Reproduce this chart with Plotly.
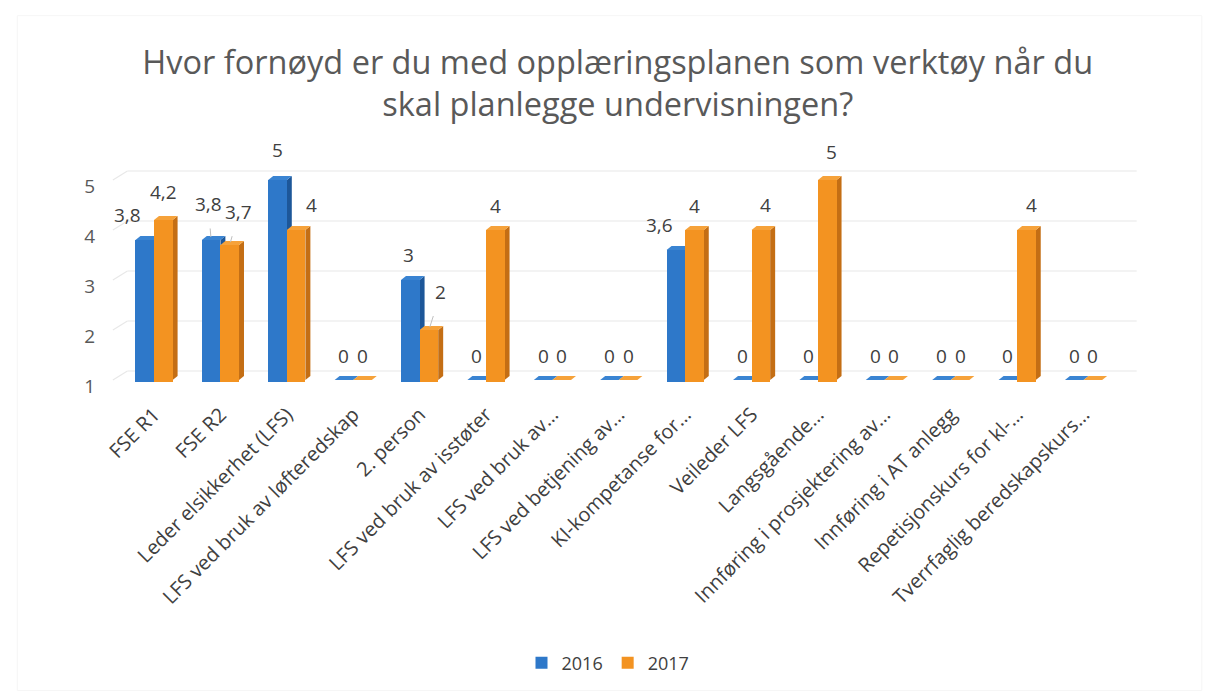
import plotly.graph_objects as go
import numpy as np

# Survey data: satisfaction with the training plan (scale 1-5), 0 = no answers
categories = [
    "FSE R1", "FSE R2", "Leder elsikkerhet (LFS)", "LFS ved bruk av løfteredskap",
    "2. person", "LFS ved bruk av isstøter", "LFS ved bruk av…", "LFS ved betjening av…",
    "KI-kompetanse for…", "Veileder LFS", "Langsgående…", "Innføring i prosjektering av…",
    "Innføring i AT anlegg", "Repetisjonskurs for kl-…", "Tverrfaglig beredskapskurs…",
]
values_2016 = [3.8, 3.8, 5, 0, 3, 0, 0, 0, 3.6, 0, 0, 0, 0, 0, 0]
values_2017 = [4.2, 3.7, 4, 0, 2, 4, 0, 0, 4, 4, 5, 0, 0, 4, 0]
y_ticks = [1, 2, 3, 4, 5]

BLUE, BLUE_SIDE, BLUE_TOP = "#2E78C9", "#1D5799", "#3A84D2"
ORANGE, ORANGE_SIDE, ORANGE_TOP = "#F39321", "#C46E14", "#F6A23A"
TEXT = "#404040"
FONT = "Open Sans"

x = np.arange(len(categories), dtype=float)
W = 0.28          # front face width of one bar
DX, DY = 0.075, 0.08   # depth offset for the pseudo-3D faces
FLOOR = 1.0

fig = go.Figure()

# front faces
for vals, off, col, name in [(values_2016, -W / 2, BLUE, "2016"),
                             (values_2017, W / 2, ORANGE, "2017")]:
    fig.add_trace(go.Bar(
        x=x + off, y=vals, width=W, name=name, marker=dict(color=col, line=dict(width=0)),
        hoverinfo="name+y",
    ))

shapes = []
# back-wall gridlines
for t in y_ticks:
    shapes.append(dict(type="line", xref="x", yref="y", ysizemode="pixel", yanchor=t,
                       x0=-0.62, x1=-0.4, y0=0, y1=9, line=dict(color="#E8E8E8", width=1.2),
                       layer="below"))
    shapes.append(dict(type="line", xref="x", yref="y", ysizemode="pixel", yanchor=t,
                       x0=-0.4, x1=14.8, y0=9, y1=9, line=dict(color="#E8E8E8", width=1.2),
                       layer="below"))


def faces(xl, v, side_col, top_col):
    xr = xl + W
    top = max(v, FLOOR)
    out = []
    if v > FLOOR:
        out.append(dict(type="path", xref="x", yref="y", layer="below",
                        path=f"M{xr},{FLOOR} L{xr + DX},{FLOOR + DY} L{xr + DX},{top + DY} L{xr},{top} Z",
                        fillcolor=side_col, line=dict(width=0)))
    out.append(dict(type="path", xref="x", yref="y", layer="below",
                    path=f"M{xl},{top} L{xr},{top} L{xr + DX},{top + DY} L{xl + DX},{top + DY} Z",
                    fillcolor=top_col, line=dict(width=0)))
    return out


for i in range(len(categories)):
    shapes += faces(x[i] - W, values_2016[i], BLUE_SIDE, BLUE_TOP)
for i in range(len(categories)):
    shapes += faces(x[i], values_2017[i], ORANGE_SIDE, ORANGE_TOP)

# faint chart border
shapes.append(dict(type="rect", xref="paper", yref="paper", x0=-0.09, x1=1.06, y0=-1.39, y1=1.65,
                   line=dict(color="#F6F6F6", width=1), layer="below"))

# data labels: pixel offsets of the label from the bar top (some with leader lines)
offsets_2016 = {0: (-17, -25, False), 1: (-3, -36, True), 2: (0, -30, False),
                4: (-2, -25, False), 8: (-16, -25, False)}
offsets_2017 = {0: (0, -28, False), 1: (9, -33, True), 2: (15, -25, False),
                4: (12, -38, True), 9: (5, -25, False), 10: (4, -28, False),
                13: (5, -25, False)}

annotations = []
for vals, off, table in [(values_2016, -W / 2, offsets_2016), (values_2017, W / 2, offsets_2017)]:
    for i, v in enumerate(vals):
        ax, ay, leader = table.get(i, (0, -24, False))
        label = f"{v:g}".replace(".", ",")
        annotations.append(dict(
            x=x[i] + off, y=max(v, FLOOR), xref="x", yref="y", text=label,
            showarrow=True, ax=ax, ay=ay, arrowhead=0, arrowwidth=1,
            arrowcolor="#BFBFBF" if leader else "rgba(0,0,0,0)",
            standoff=3 if leader else 0, startstandoff=10 if leader else 0,
            font=dict(family=FONT, size=19, color=TEXT),
        ))

fig.update_layout(
    width=1216, height=693,
    margin=dict(l=110, r=76, t=160, b=311),
    paper_bgcolor="white", plot_bgcolor="white",
    barmode="overlay", bargap=0,
    title=dict(text="Hvor fornøyd er du med opplæringsplanen som verktøy når du<br>skal planlegge undervisningen?",
               x=0.508, xanchor="center", y=1 - 74 / 693, yanchor="top", xref="container",
               yref="container", font=dict(family=FONT, size=32.5, color="#595959")),
    xaxis=dict(range=[-0.663, 14.85], tickvals=list(x), ticktext=categories, tickangle=-45,
               showgrid=False, zeroline=False, showline=False, ticks="",
               tickfont=dict(family=FONT, size=20, color=TEXT), ticklabelstandoff=16),
    yaxis=dict(range=[0.96, 5.4], tickvals=y_ticks, showgrid=False, zeroline=False,
               showline=False, ticks="", tickfont=dict(family=FONT, size=19, color="#595959"),
               ticklabelstandoff=14, ticklabelshift=6),
    legend=dict(orientation="h", x=0.5, xanchor="center", y=1 - 663 / 693, yanchor="middle",
                xref="container", yref="container", font=dict(family=FONT, size=18, color=TEXT),
                itemwidth=30, traceorder="normal"),
    shapes=shapes, annotations=annotations,
)

fig.write_html("out.html")
